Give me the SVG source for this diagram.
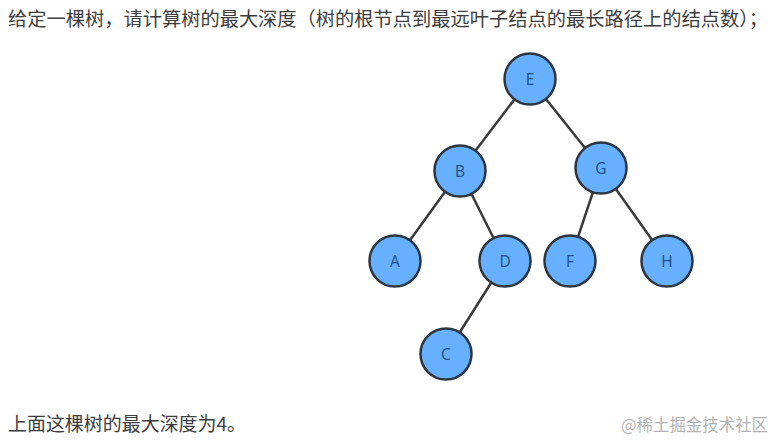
<svg xmlns="http://www.w3.org/2000/svg" width="773" height="442" viewBox="0 0 773 442">
<style>
.t{font-family:"Noto Sans CJK SC","Liberation Sans",sans-serif;fill:#3d3d3d}
.wm{font-family:"Noto Sans CJK SC","Liberation Sans",sans-serif;fill:#b3b3b3;font-size:17px}
.n circle{fill:#66b0ff;stroke:#2c3640;stroke-width:2.5}
.n text{font-family:"Open Sans","Liberation Sans",sans-serif;font-size:15.5px;fill:#1d4f86;text-anchor:middle;dominant-baseline:central}
.e line{stroke:#3a3a3a;stroke-width:2.5}
</style>
<rect width="773" height="442" fill="#ffffff"/>
<text class="t" x="8" y="26" font-size="19" textLength="760" lengthAdjust="spacingAndGlyphs">给定一棵树，请计算树的最大深度（树的根节点到最远叶子结点的最长路径上的结点数）；</text>
<g class="e" id="edges">
<line x1="530" y1="79" x2="460" y2="171"/>
<line x1="530" y1="79" x2="601" y2="168"/>
<line x1="460" y1="171" x2="395" y2="261"/>
<line x1="460" y1="171" x2="505" y2="261"/>
<line x1="601" y1="168" x2="570" y2="261"/>
<line x1="601" y1="168" x2="667" y2="261"/>
<line x1="505" y1="261" x2="446" y2="354"/>
</g>
<g class="n" id="node-E"><circle cx="530" cy="79" r="25.5"/><text x="530" y="79">E</text></g>
<g class="n" id="node-B"><circle cx="460" cy="171" r="25.5"/><text x="460" y="171">B</text></g>
<g class="n" id="node-G"><circle cx="601" cy="168" r="25.5"/><text x="601" y="168">G</text></g>
<g class="n" id="node-A"><circle cx="395" cy="261" r="25.5"/><text x="395" y="261">A</text></g>
<g class="n" id="node-D"><circle cx="505" cy="261" r="25.5"/><text x="505" y="261">D</text></g>
<g class="n" id="node-F"><circle cx="570" cy="261" r="25.5"/><text x="570" y="261">F</text></g>
<g class="n" id="node-H"><circle cx="667" cy="261" r="25.5"/><text x="667" y="261">H</text></g>
<g class="n" id="node-C"><circle cx="446" cy="354" r="25.5"/><text x="446" y="354">C</text></g>
<text class="t" x="8" y="431" font-size="19" textLength="238" lengthAdjust="spacingAndGlyphs">上面这棵树的最大深度为4。</text>
<text class="wm" x="621" y="431" textLength="147" lengthAdjust="spacingAndGlyphs">@稀土掘金技术社区</text>
</svg>
